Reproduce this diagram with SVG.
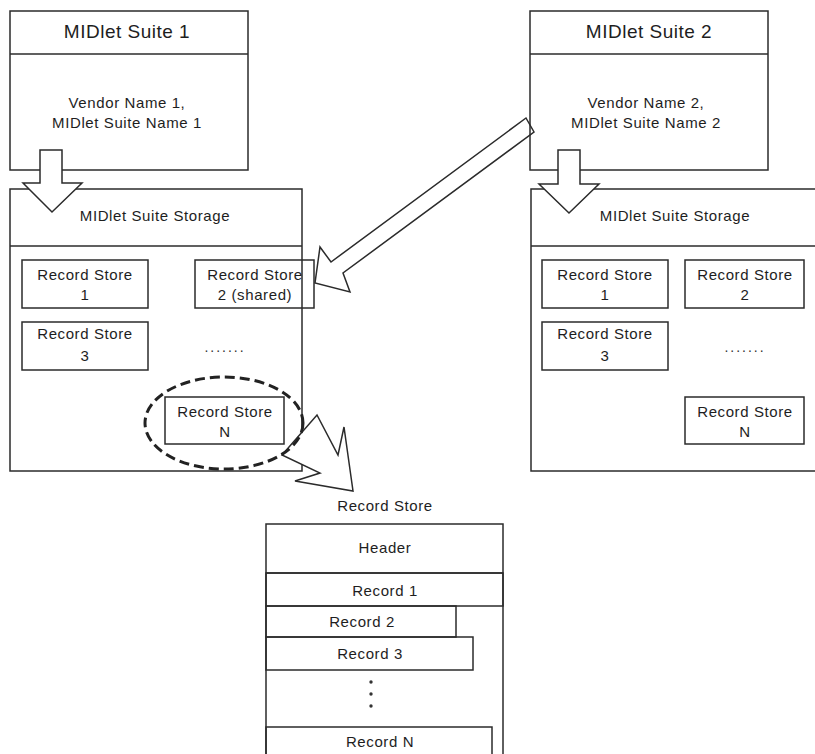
<svg xmlns="http://www.w3.org/2000/svg" width="815" height="754" viewBox="0 0 815 754">
  <style>
    .box { fill: none; stroke: #2b2b2b; stroke-width: 1.5; }
    .arrow { fill: #ffffff; stroke: #2b2b2b; stroke-width: 1.5; stroke-linejoin: miter; }
    .arrow-open { fill: none; stroke: #2b2b2b; stroke-width: 1.5; }
    .title { font-family: "Liberation Sans", Arial, sans-serif; font-size: 19px; letter-spacing: 0.5px; fill: #1e1e1e; text-anchor: middle; }
    .label { font-family: "Liberation Sans", Arial, sans-serif; font-size: 15px; letter-spacing: 0.6px; fill: #1e1e1e; text-anchor: middle; }
    .dots { font-family: "Liberation Sans", Arial, sans-serif; font-size: 14px; letter-spacing: 2px; fill: #333; text-anchor: middle; }
    .dash { fill: none; stroke: #222; stroke-width: 3; stroke-dasharray: 10 5; }
  </style>
  <rect width="815" height="754" fill="#ffffff"/>

  <!-- Suite 1 -->
  <g id="suite1">
    <rect class="box" x="10" y="11" width="238" height="159"/>
    <line class="box" x1="10" y1="54" x2="248" y2="54"/>
    <text class="title" x="127" y="38">MIDlet Suite 1</text>
    <text class="label" x="127" y="108">Vendor Name 1,</text>
    <text class="label" x="127" y="128">MIDlet Suite Name 1</text>
  </g>

  <!-- Suite 1 storage -->
  <g id="storage1">
    <rect class="box" x="10" y="189" width="292" height="282"/>
    <line class="box" x1="10" y1="246" x2="302" y2="246"/>
    <text class="label" x="155" y="221">MIDlet Suite Storage</text>
    <text class="dots" x="225" y="352">.......</text>
  </g>
  <g id="s1-rs1">
    <rect class="box" x="22" y="260" width="126" height="48"/>
    <text class="label" x="85" y="280">Record Store</text>
    <text class="label" x="85" y="300">1</text>
  </g>
  <g id="s1-rs2">
    <rect class="box" x="195" y="260" width="119" height="48"/>
    <text class="label" x="255" y="280">Record Store</text>
    <text class="label" x="255" y="300">2 (shared)</text>
  </g>
  <g id="s1-rs3">
    <rect class="box" x="22" y="322" width="126" height="48"/>
    <text class="label" x="85" y="339">Record Store</text>
    <text class="label" x="85" y="361">3</text>
  </g>
  <g id="s1-rsn">
    <rect class="box" x="165" y="397" width="119" height="47"/>
    <text class="label" x="225" y="417">Record Store</text>
    <text class="label" x="225" y="437">N</text>
  </g>

  <!-- Suite 2 -->
  <g id="suite2">
    <rect class="box" x="530" y="11" width="238" height="159"/>
    <line class="box" x1="530" y1="54" x2="768" y2="54"/>
    <text class="title" x="649" y="38">MIDlet Suite 2</text>
    <text class="label" x="646" y="108">Vendor Name 2,</text>
    <text class="label" x="646" y="128">MIDlet Suite Name 2</text>
  </g>

  <!-- Suite 2 storage -->
  <g id="storage2">
    <rect class="box" x="531" y="189" width="292" height="282"/>
    <line class="box" x1="531" y1="246" x2="815" y2="246"/>
    <text class="label" x="675" y="221">MIDlet Suite Storage</text>
    <text class="dots" x="745" y="352">.......</text>
  </g>
  <g id="s2-rs1">
    <rect class="box" x="542" y="260" width="126" height="48"/>
    <text class="label" x="605" y="280">Record Store</text>
    <text class="label" x="605" y="300">1</text>
  </g>
  <g id="s2-rs2">
    <rect class="box" x="685" y="260" width="119" height="48"/>
    <text class="label" x="745" y="280">Record Store</text>
    <text class="label" x="745" y="300">2</text>
  </g>
  <g id="s2-rs3">
    <rect class="box" x="542" y="322" width="126" height="48"/>
    <text class="label" x="605" y="339">Record Store</text>
    <text class="label" x="605" y="361">3</text>
  </g>
  <g id="s2-rsn">
    <rect class="box" x="685" y="397" width="119" height="47"/>
    <text class="label" x="745" y="417">Record Store</text>
    <text class="label" x="745" y="437">N</text>
  </g>

  <!-- Record store layout -->
  <g id="record-store">
    <text class="label" x="385" y="511">Record Store</text>
    <rect class="box" x="266" y="524" width="237" height="240"/>
    <line class="box" x1="266" y1="573" x2="503" y2="573"/>
    <text class="label" x="385" y="553">Header</text>
    <rect class="box" x="266" y="573" width="237" height="33"/>
    <text class="label" x="385" y="596">Record 1</text>
    <rect class="box" x="266" y="606" width="190" height="31"/>
    <text class="label" x="362" y="627">Record 2</text>
    <rect class="box" x="266" y="637" width="207" height="33"/>
    <text class="label" x="370" y="659">Record 3</text>
    <circle cx="371" cy="682" r="1.7" fill="#333"/>
    <circle cx="371" cy="694" r="1.7" fill="#333"/>
    <circle cx="371" cy="706" r="1.7" fill="#333"/>
    <rect class="box" x="266" y="727" width="226" height="40"/>
    <text class="label" x="380" y="747">Record N</text>
  </g>

  <!-- Connectors: hollow block arrows -->
  <g id="connectors">
    <polygon class="arrow" points="40,150 62,150 62,183 82,183 52,212 23,183 40,183"/>
    <polygon class="arrow" points="558,150 580,150 580,184 599,184 569,213 539,184 558,184"/>
    <polygon class="arrow-open" points="526,118 534,132 343,273 350,292 315,283 320,247 331,262"/>
    <polygon class="arrow" points="282,455 317,415 338,455 344,427 353,491 295,481 320,473"/>
  </g>

  <!-- Dashed highlight around Record Store N -->
  <g id="highlight">
    <ellipse class="dash" cx="224" cy="423" rx="79" ry="46"/>
  </g>
</svg>
